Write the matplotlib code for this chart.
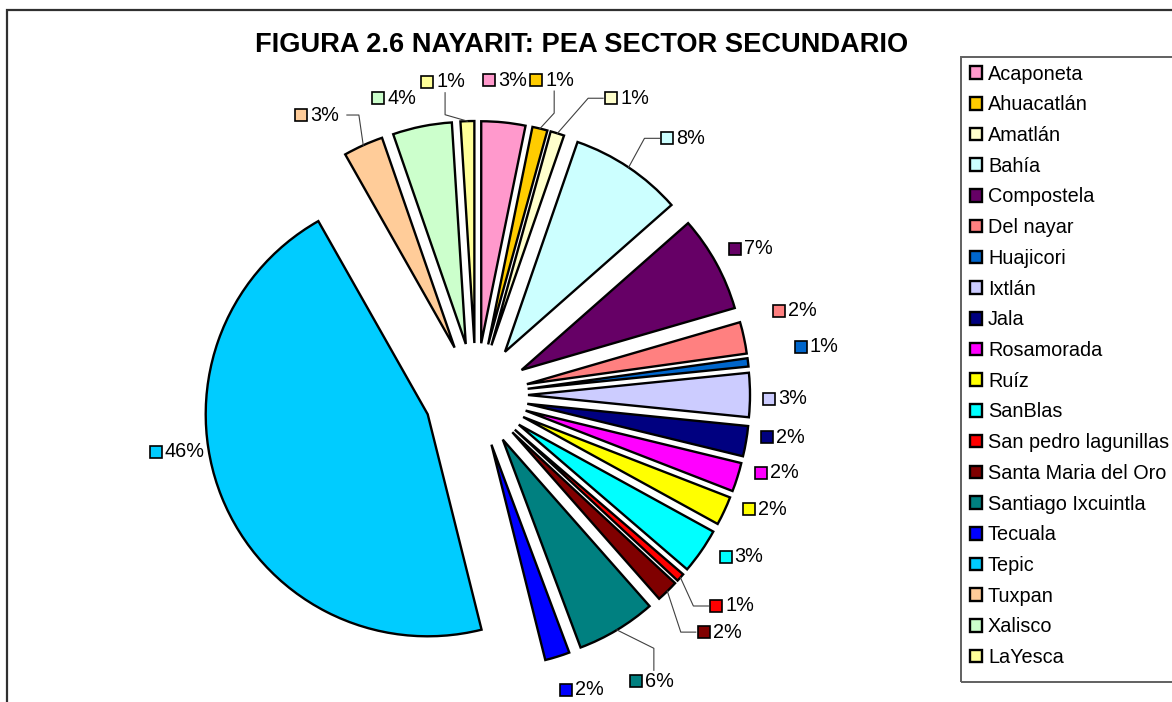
#pie chart of the secondary sector PEA by municipality
import numpy as np
import matplotlib.pyplot as plt
from matplotlib.patches import Rectangle

plt.rcParams['font.family'] = ['Liberation Sans', 'DejaVu Sans']

#data
municipios = ['Acaponeta', 'Ahuacatlán', 'Amatlán', 'Bahía', 'Compostela', 'Del nayar',
              'Huajicori', 'Ixtlán', 'Jala', 'Rosamorada', 'Ruíz', 'SanBlas',
              'San pedro lagunillas', 'Santa Maria del Oro', 'Santiago Ixcuintla',
              'Tecuala', 'Tepic', 'Tuxpan', 'Xalisco', 'LaYesca']
pea = [3.2, 1.1, 1.0, 8.2, 7.0, 2.3, 0.6, 3.2, 2.2, 2.1, 2.1, 3.3,
       0.6, 1.6, 5.8, 1.8, 45.7, 2.9, 4.3, 1.0]
colores = ['#FF99CC', '#FFCC00', '#FFFFCC', '#CCFFFF', '#660066', '#FF8080',
           '#0066CC', '#CCCCFF', '#000080', '#FF00FF', '#FFFF00', '#00FFFF',
           '#FF0000', '#800000', '#008080', '#0000FF', '#00CCFF', '#FFCC99',
           '#CCFFCC', '#FFFF99']
titulo = 'FIGURA 2.6 NAYARIT: PEA SECTOR SECUNDARIO'

#label layout: distance from pie centre (px) and angle shift (deg, clockwise)
lab_r = [316, 324, 333, 330, 311, 330, 344, 309, 310, 311, 311, 311,
         332, 340, 336, 313, 304, 322, 308, 315]
lab_dang = [-0.5, 0.1, 9.7, 5.1, 0.8, -2.7, -1.2, 0.7, -1.9, -3.0, -3.5, -3.4,
            -2.3, -1.5, -0.6, -2.5, 11.0, -5.3, -4.1, -4.2]
leader = [None, 'v', 'h', 'h', None, None, None, None, None, None, None, None,
          'h', 'h', 'v', None, None, 'h', None, 'v']

W, H = 1172, 702
fig = plt.figure(figsize=(W / 100, H / 100), dpi=100)
ax = fig.add_axes([0, 0, 1, 1])
cx, cy = 476, H - 395
rad = 222
expl = 52
fs = 14.3

wedges, _ = ax.pie(pea, colors=colores, startangle=90, counterclock=False,
                   radius=rad, center=(cx, cy), explode=[expl] * len(pea),
                   wedgeprops=dict(edgecolor='black', linewidth=1.7))
ax.set_xlim(0, W)
ax.set_ylim(0, H)
ax.set_aspect('equal')
ax.axis('off')

renderer = fig.canvas.get_renderer()
total = sum(pea)
for i, w in enumerate(wedges):
    thm = np.radians((w.theta1 + w.theta2) / 2)
    tha = thm - np.radians(lab_dang[i])
    px = cx + lab_r[i] * np.cos(tha)
    py = cy + lab_r[i] * np.sin(tha)
    t = ax.text(0, py, '%d%%' % round(100 * pea[i] / total), fontsize=fs,
                ha='left', va='center')
    tw = t.get_window_extent(renderer).width
    gw = 15 + tw
    gl = px - gw / 2
    t.set_x(gl + 15)
    ax.plot(gl + 6, py, marker='s', ms=8.8, mfc=colores[i], mec='black', mew=1.2)
    #leader lines
    if leader[i] is not None:
        mx = w.center[0] + rad * np.cos(thm)
        my = w.center[1] + rad * np.sin(thm)
        if leader[i] == 'h':
            if px > mx:
                sx = gl - 2
                kx = sx - 15
            else:
                sx = gl + gw + 8
                kx = sx + 12
            xs = [sx, kx, mx]
            ys = [py, py, my]
        else:
            sy = py - 11 if py > my else py + 11
            ky = py - 33 if py > my else py + 33
            xs = [px + 2, px + 2, mx]
            ys = [sy, ky, my]
        ax.plot(xs, ys, color='#404040', lw=0.8)

ax.text(582, H - 45, titulo, ha='center', va='center', fontsize=19.6,
        fontweight='bold')

#outer chart border and legend box
ax.add_patch(Rectangle((6.5, -30), W + 50, H - 10 + 30, fill=False,
                       edgecolor='#303030', lw=1.6, clip_on=False))
ax.add_patch(Rectangle((961, H - 682), 260, 625, fill=False,
                       edgecolor='#606060', lw=1.4, clip_on=False))
ax.legend(wedges, municipios, loc='upper left', frameon=False,
          bbox_to_anchor=(970 / W, 1 - 64.5 / H), bbox_transform=fig.transFigure,
          fontsize=fs, handlelength=0.6, handleheight=0.6, handletextpad=0.3,
          labelspacing=0.59, borderpad=0, borderaxespad=0)

fig.savefig('out.png', dpi=100)
